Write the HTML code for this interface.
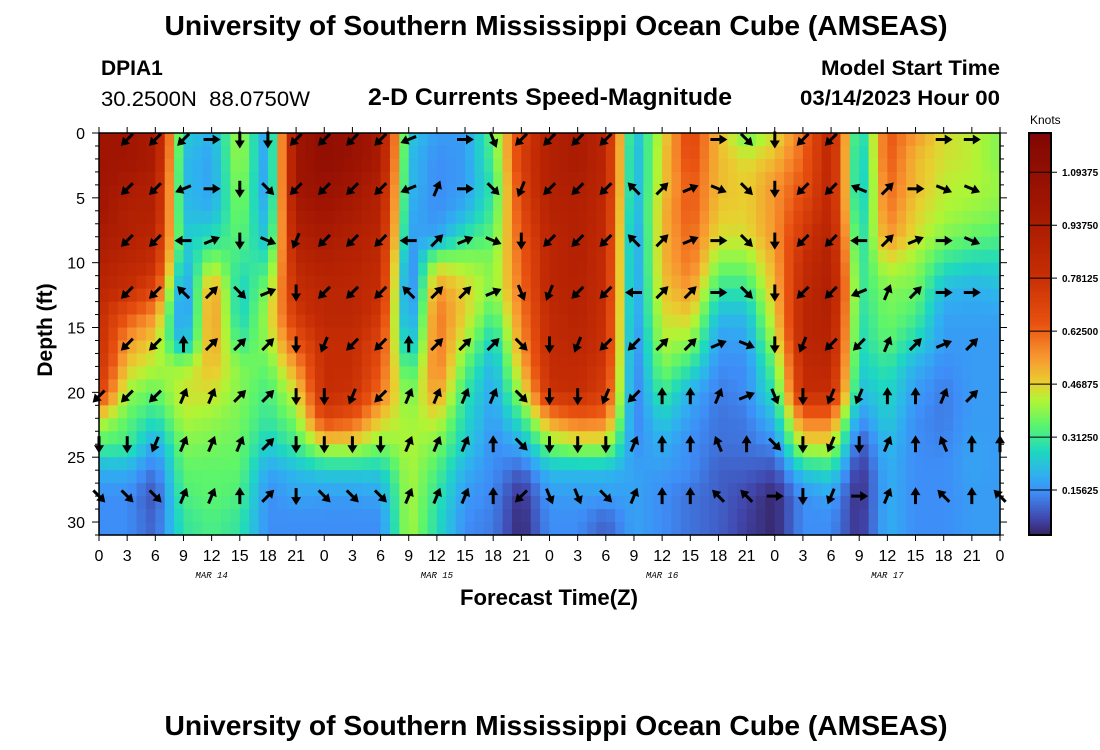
<!DOCTYPE html>
<html><head><meta charset="utf-8">
<style>
html,body{margin:0;padding:0;background:#fff;}
svg{display:block;font-family:"Liberation Sans",sans-serif;}
</style></head>
<body>
<svg id="chart" width="1100" height="750" viewBox="0 0 1100 750" xmlns="http://www.w3.org/2000/svg">
<text x="556" y="35" text-anchor="middle" font-size="28" font-weight="bold" textLength="783" lengthAdjust="spacingAndGlyphs">University of Southern Mississippi Ocean Cube (AMSEAS)</text>
<text x="101" y="75" font-size="21" font-weight="bold">DPIA1</text>
<text x="101" y="106" font-size="21" textLength="209" lengthAdjust="spacingAndGlyphs">30.2500N&#160;&#160;88.0750W</text>
<text x="550" y="105" text-anchor="middle" font-size="24.5" font-weight="bold" textLength="364" lengthAdjust="spacingAndGlyphs">2-D Currents Speed-Magnitude</text>
<text x="1000" y="75" text-anchor="end" font-size="21.5" font-weight="bold" textLength="179" lengthAdjust="spacingAndGlyphs">Model Start Time</text>
<text x="1000" y="105" text-anchor="end" font-size="21.5" font-weight="bold" textLength="200" lengthAdjust="spacingAndGlyphs">03/14/2023 Hour 00</text>
<g id="cells"></g>
<g id="arrows"></g>
<g id="axes"></g>
<text transform="translate(52,330) rotate(-90)" text-anchor="middle" font-size="21" font-weight="bold">Depth (ft)</text>
<text x="549" y="605" text-anchor="middle" font-size="22" font-weight="bold" textLength="178" lengthAdjust="spacingAndGlyphs">Forecast Time(Z)</text>
<g id="cbar"></g>
<text x="1030" y="124" font-size="12">Knots</text>
<text x="556" y="735" text-anchor="middle" font-size="28" font-weight="bold" textLength="783" lengthAdjust="spacingAndGlyphs">University of Southern Mississippi Ocean Cube (AMSEAS)</text>
</svg>
<script>
// ---- data ----
const hours = [0,3,6,9,12,15,18,21,24,27,30,33,36,39,42,45,48,51,54,57,60,63,66,69,72,75,78,81,84,87,90,93,96];
const depths = [0,2,4,6,8,10,12,14,16,18,20,22,24,26,28,30];
// speed (knots) per time column, values at each depth in `depths`
const speedH0=[1.0,1.0,1.0,1.0,0.95,0.9,0.85,0.8,0.8,0.78,0.72,0.45,0.33,0.2,0.15,0.15];
const speedH3=[1.0,1.0,0.95,0.9,0.9,0.85,0.8,0.65,0.55,0.48,0.4,0.35,0.32,0.2,0.15,0.15];
const speedH6=[0.95,0.95,0.9,0.9,0.85,0.8,0.7,0.55,0.47,0.42,0.35,0.28,0.18,0.12,0.08,0.1];
const speedH9=[0.25,0.22,0.22,0.22,0.25,0.2,0.13,0.12,0.18,0.4,0.45,0.42,0.38,0.35,0.33,0.3];
const speedH12=[0.2,0.18,0.18,0.2,0.28,0.4,0.55,0.57,0.55,0.5,0.45,0.4,0.37,0.35,0.35,0.33];
const speedH15=[0.42,0.42,0.4,0.38,0.35,0.3,0.25,0.25,0.3,0.38,0.38,0.37,0.36,0.35,0.33,0.3];
const speedH18=[0.15,0.15,0.15,0.18,0.22,0.3,0.38,0.42,0.4,0.35,0.32,0.3,0.25,0.18,0.15,0.15];
const speedH21=[1.0,1.0,1.0,0.95,0.9,0.85,0.8,0.75,0.65,0.55,0.45,0.38,0.32,0.22,0.18,0.15];
const speedH24=[1.1,1.1,1.05,1.0,0.95,0.9,0.85,0.85,0.8,0.8,0.8,0.7,0.45,0.25,0.17,0.15];
const speedH27=[1.05,1.05,1.0,0.95,0.9,0.88,0.85,0.85,0.8,0.8,0.78,0.65,0.45,0.25,0.17,0.15];
const speedH30=[0.95,0.95,0.9,0.88,0.85,0.82,0.8,0.75,0.7,0.65,0.6,0.48,0.38,0.25,0.18,0.15];
const speedH33=[0.25,0.22,0.22,0.2,0.18,0.12,0.1,0.12,0.18,0.28,0.35,0.4,0.42,0.42,0.42,0.42];
const speedH36=[0.17,0.15,0.15,0.15,0.18,0.42,0.55,0.6,0.6,0.6,0.55,0.45,0.38,0.33,0.3,0.28];
const speedH39=[0.17,0.17,0.17,0.2,0.3,0.4,0.47,0.47,0.42,0.35,0.3,0.27,0.25,0.2,0.17,0.15];
const speedH42=[0.35,0.33,0.3,0.32,0.35,0.38,0.38,0.32,0.25,0.2,0.18,0.17,0.15,0.15,0.14,0.13];
const speedH45=[0.7,0.72,0.7,0.68,0.65,0.62,0.6,0.58,0.55,0.5,0.42,0.3,0.2,0.1,0.04,0.03];
const speedH48=[0.9,0.9,0.9,0.88,0.85,0.85,0.85,0.82,0.82,0.8,0.78,0.55,0.38,0.22,0.17,0.15];
const speedH51=[0.95,0.95,0.92,0.9,0.9,0.9,0.88,0.88,0.85,0.82,0.8,0.62,0.42,0.22,0.17,0.15];
const speedH54=[0.85,0.85,0.85,0.82,0.82,0.8,0.8,0.78,0.78,0.75,0.72,0.6,0.42,0.22,0.17,0.1];
const speedH57=[0.2,0.18,0.18,0.17,0.15,0.15,0.15,0.15,0.13,0.12,0.12,0.13,0.15,0.18,0.18,0.18];
const speedH60=[0.45,0.47,0.47,0.5,0.5,0.5,0.48,0.45,0.42,0.38,0.32,0.25,0.2,0.17,0.15,0.15];
const speedH63=[0.7,0.68,0.65,0.65,0.62,0.6,0.55,0.48,0.4,0.3,0.2,0.17,0.15,0.15,0.12,0.12];
const speedH66=[0.5,0.5,0.5,0.48,0.45,0.38,0.3,0.22,0.17,0.15,0.13,0.12,0.12,0.1,0.1,0.1];
const speedH69=[0.35,0.45,0.47,0.47,0.45,0.38,0.3,0.22,0.18,0.15,0.15,0.13,0.12,0.1,0.07,0.06];
const speedH72=[0.45,0.5,0.55,0.55,0.55,0.52,0.5,0.47,0.42,0.35,0.3,0.22,0.15,0.08,0.03,0.03];
const speedH75=[0.6,0.62,0.65,0.7,0.75,0.8,0.82,0.85,0.85,0.82,0.8,0.6,0.45,0.25,0.15,0.15];
const speedH78=[0.85,0.85,0.85,0.85,0.88,0.9,0.92,0.9,0.88,0.85,0.8,0.6,0.45,0.28,0.18,0.15];
const speedH81=[0.22,0.2,0.2,0.22,0.25,0.28,0.3,0.28,0.27,0.25,0.22,0.15,0.08,0.04,0.03,0.04];
const speedH84=[0.65,0.65,0.62,0.6,0.55,0.45,0.38,0.37,0.35,0.3,0.27,0.25,0.22,0.2,0.2,0.2];
const speedH87=[0.55,0.5,0.5,0.47,0.45,0.4,0.37,0.33,0.27,0.2,0.17,0.15,0.15,0.15,0.15,0.15];
const speedH90=[0.45,0.45,0.43,0.42,0.38,0.3,0.22,0.18,0.17,0.15,0.13,0.13,0.14,0.15,0.15,0.15];
const speedH93=[0.43,0.43,0.42,0.4,0.35,0.27,0.2,0.18,0.17,0.17,0.17,0.17,0.18,0.18,0.17,0.17];
const speedH96=[0.38,0.38,0.4,0.38,0.33,0.27,0.22,0.18,0.17,0.17,0.17,0.17,0.17,0.17,0.17,0.17];
const speeds=[speedH0,speedH3,speedH6,speedH9,speedH12,speedH15,speedH18,speedH21,speedH24,speedH27,speedH30,speedH33,speedH36,speedH39,speedH42,speedH45,speedH48,speedH51,speedH54,speedH57,speedH60,speedH63,speedH66,speedH69,speedH72,speedH75,speedH78,speedH81,speedH84,speedH87,speedH90,speedH93,speedH96];

// arrow depths and directions (compass, "" = none), one entry per `hours`
const arrowDepths=[0.5,4.3,8.3,12.3,16.3,20.3,24,28];
const dirRow0=["","SW","SW","SW","E","S","S","SW","SW","SW","SW","WSW","","E","SSE","SW","SW","SW","SW","","","","E","SE","S","SW","SW","","","","E","E",""];
const dirRow1=["","SW","SW","WSW","E","S","SE","SW","SW","SW","SW","WSW","NNE","E","SE","SSW","SW","SW","SW","NW","NE","ENE","ESE","SE","S","SW","SW","WNW","NE","E","ESE","ESE",""];
const dirRow2=["","SW","SW","W","ENE","S","ESE","SSW","SW","SW","SW","W","NE","ENE","ESE","S","SW","SW","SW","NW","NE","ENE","E","SE","S","SW","SW","W","NE","ENE","E","ESE",""];
const dirRow3=["","SW","SW","NW","NE","SE","ENE","S","SW","SW","SW","NW","NE","NE","ENE","SSE","SSW","SW","SW","W","NE","NE","E","SE","S","SW","SW","WSW","NNE","NE","E","E",""];
const dirRow4=["","SW","SW","N","NE","NE","NE","S","SSW","SW","SW","N","NE","NE","NE","SE","S","SSW","SW","SW","NE","NE","ENE","ESE","S","SSW","SW","SW","NNE","NE","ENE","NE",""];
const dirRow5=["SW","SW","SW","NNE","NNE","NE","NE","S","S","SSW","SW","NNE","NNE","NNE","NNE","SE","S","S","SSW","SW","N","N","NNE","ENE","SSE","S","SSW","SSW","N","N","NNE","NE",""];
const dirRow6=["S","S","SSW","NNE","NNE","NNE","NE","S","S","S","S","NNE","NNE","NNE","N","SE","S","S","S","NNE","N","N","NNW","N","SE","S","SSW","S","NNE","N","NNW","N","N"];
const dirRow7=["SE","SE","SE","NNE","NNE","N","NE","S","SE","SE","SE","NNE","NNE","NNE","N","SW","SSE","SSE","SE","NNE","N","N","NW","NW","E","S","SSW","E","NNE","N","NW","N","NW"];
const dirRows=[dirRow0,dirRow1,dirRow2,dirRow3,dirRow4,dirRow5,dirRow6,dirRow7];

const xTicks=[0,3,6,9,12,15,18,21,24,27,30,33,36,39,42,45,48,51,54,57,60,63,66,69,72,75,78,81,84,87,90,93,96];
const xTickLabels=["0","3","6","9","12","15","18","21","0","3","6","9","12","15","18","21","0","3","6","9","12","15","18","21","0","3","6","9","12","15","18","21","0"];
const dayLabels=["MAR 14","MAR 15","MAR 16","MAR 17"];
const dayLabelHours=[12,36,60,84];
const yTicks=[0,5,10,15,20,25,30];
const cbarTicks=[0.15625,0.3125,0.46875,0.625,0.78125,0.9375,1.09375];
const cbarTickLabels=["0.15625","0.31250","0.46875","0.62500","0.78125","0.93750","1.09375"];

// ---- scales ----
const X0=99,X1=1000,Y0=133,Y1=535,HMAX=96,DMAX=31;
const xs=h=>X0+h/HMAX*(X1-X0);
const ys=d=>Y0+d/DMAX*(Y1-Y0);
const CB0=1029,CB1=1051,CBY0=133,CBY1=535;
const cbY=v=>543-v*339;
const NS="http://www.w3.org/2000/svg";
function mk(tag,attrs,parent){const e=document.createElementNS(NS,tag);for(const k in attrs)e.setAttribute(k,attrs[k]);parent.appendChild(e);return e;}

const stops=[[0,[48,18,59]],[0.07,[65,69,171]],[0.15,[62,142,247]],[0.2,[47,176,240]],[0.27,[30,216,192]],[0.35,[94,245,106]],[0.42,[176,245,53]],[0.47,[232,208,48]],[0.55,[248,149,48]],[0.65,[232,80,16]],[0.8,[196,44,4]],[1.0,[160,21,2]],[1.25,[122,4,3]]];
function color(v){
  if(v<=stops[0][0])return `rgb(${stops[0][1]})`;
  for(let i=1;i<stops.length;i++){if(v<=stops[i][0]){const a=stops[i-1],b=stops[i],t=(v-a[0])/(b[0]-a[0]);
    return `rgb(${a[1].map((c,j)=>Math.round(c+(b[1][j]-c)*t)).join(',')})`;}}
  return `rgb(${stops[stops.length-1][1]})`;
}
function idx(arr,v){let i=0;while(i<arr.length-2&&arr[i+1]<=v)i++;let t=(v-arr[i])/(arr[i+1]-arr[i]);t=Math.max(0,Math.min(1,t));return [i,t];}
function sample(h,d){
  const [i,ti]=idx(hours,h),[j,tj]=idx(depths,d);
  const a=speeds[i][j],b=speeds[i+1][j],c=speeds[i][j+1],e=speeds[i+1][j+1];
  return (a*(1-ti)+b*ti)*(1-tj)+(c*(1-ti)+e*ti)*tj;
}

// ---- heatmap ----
const cells=document.getElementById('cells');
for(let h=0;h<HMAX;h++){for(let d=0;d<DMAX;d++){
  const r=mk('rect',{x:xs(h).toFixed(2),y:ys(d).toFixed(2),width:(xs(h+1)-xs(h)+0.6).toFixed(2),height:(ys(d+1)-ys(d)+0.6).toFixed(2),fill:color(sample(h+0.5,d+0.5))},cells);
  
  
}}

// ---- arrows ----
const compass={N:0,NNE:22.5,NE:45,ENE:67.5,E:90,ESE:112.5,SE:135,SSE:157.5,S:180,SSW:202.5,SW:225,WSW:247.5,W:270,WNW:292.5,NW:315,NNW:337.5};
const arrows=document.getElementById('arrows');
dirRows.forEach((row,ri)=>{row.forEach((dir,hi)=>{
  if(!dir)return;
  const cx=xs(hours[hi]),cy=ys(arrowDepths[ri]);
  const g=mk('g',{transform:`translate(${cx.toFixed(1)},${cy.toFixed(1)}) rotate(${compass[dir]})`},arrows);
  
  
  mk('line',{x1:0,y1:8,x2:0,y2:-3,stroke:'#000','stroke-width':3},g);
  mk('polygon',{points:'0,-9 -5,-1 5,-1',fill:'#000'},g);
});});

// ---- axes ----
const ax=document.getElementById('axes');
mk('rect',{x:X0,y:Y0,width:X1-X0,height:Y1-Y0,fill:'none',stroke:'#000','stroke-width':1.5},ax);
for(let d=0;d<=DMAX;d++){const y=ys(d),L=(d%5===0)?7:4;
  mk('line',{x1:X0-L,y1:y,x2:X0,y2:y,stroke:'#000','stroke-width':1},ax);
  mk('line',{x1:X1,y1:y,x2:X1+L,y2:y,stroke:'#000','stroke-width':1},ax);}
yTicks.forEach(d=>{const t=mk('text',{x:X0-14,y:ys(d)+6,'text-anchor':'end','font-size':16},ax);t.textContent=d;
  
  });
xTicks.forEach((h,i)=>{const x=xs(h);
  mk('line',{x1:x,y1:Y0-6,x2:x,y2:Y0,stroke:'#000','stroke-width':1},ax);
  mk('line',{x1:x,y1:Y1,x2:x,y2:Y1+6,stroke:'#000','stroke-width':1},ax);
  const t=mk('text',{x:x,y:561,'text-anchor':'middle','font-size':16},ax);t.textContent=xTickLabels[i];
  
  });
dayLabels.forEach((s,i)=>{const t=mk('text',{x:xs(dayLabelHours[i]),y:578,'text-anchor':'middle','font-size':9,'font-style':'italic','font-family':'Liberation Mono, monospace'},ax);t.textContent=s;
  
  });

// ---- colorbar ----
const cb=document.getElementById('cbar');
for(let y=CBY0;y<CBY1;y+=2){mk('rect',{x:CB0,y:y,width:CB1-CB0,height:2.5,fill:color((543-y-1)/339)},cb);}
mk('rect',{x:CB0,y:CBY0,width:CB1-CB0,height:CBY1-CBY0,fill:'none',stroke:'#000','stroke-width':2},cb);
cbarTicks.forEach((v,i)=>{const y=cbY(v);
  mk('line',{x1:CB0,y1:y,x2:CB1+6,y2:y,stroke:'#000','stroke-width':1},cb);
  const t=mk('text',{x:1062,y:y+4,'font-size':10,'font-weight':'bold'},cb);t.textContent=cbarTickLabels[i];
  
  });
</script>
</body></html>
